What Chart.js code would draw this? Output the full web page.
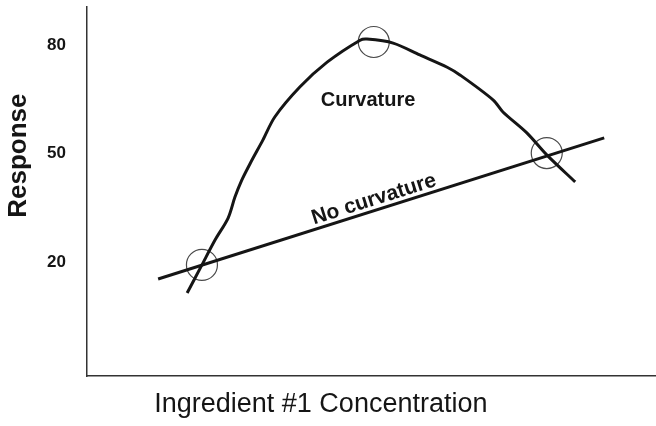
<!DOCTYPE html>
<html>
<head>
<meta charset="utf-8">
<script src="https://cdn.jsdelivr.net/npm/chart.js@4/dist/chart.umd.min.js"></script>
<style>
  html, body { margin: 0; padding: 0; background: #fff; }
  #wrap { width: 656px; height: 426px; }
</style>
</head>
<body>
<div id="wrap"><canvas id="c" width="656" height="426"></canvas></div>
<script>
// ---- data (arbitrary concentration units on x) ----
const curveX = [17.6, 20.2, 22.5, 24.8, 26.0, 27.2, 28.7, 30.9, 33.0, 37.4, 42.2, 48.0, 49.2, 53.8, 58.5, 63.3, 65.6, 71.4, 73.1, 77.3, 80.8, 85.8];
const curveY = [11.4, 19.2, 26.1, 32.2, 38.0, 42.7, 47.4, 53.8, 60.2, 68.5, 75.4, 81.5, 81.8, 80.7, 77.4, 74.0, 71.8, 64.9, 61.6, 55.8, 49.7, 42.2];
const lineX = [12.5, 90.9];
const lineY = [15.3, 54.4];
const designX = [20.2, 50.4, 80.8];
const designY = [19.2, 81.0, 50.2];
const yTicks = [20, 50, 80];
const labels = {
  curve: "Curvature",
  line: "No curvature",
  xTitle: "Ingredient #1 Concentration",
  yTitle: "Response"
};

const toPts = (xs, ys) => xs.map((x, i) => ({ x: x, y: ys[i] }));

const FONT = "'Liberation Sans', Arial, Helvetica, sans-serif";
const INK = '#151515';

const textPlugin = {
  id: 'texts',
  afterDatasetsDraw(chart) {
    const { ctx, scales: { x, y }, chartArea } = chart;
    ctx.save();
    ctx.fillStyle = INK;

    // "Curvature" label inside the curve
    ctx.font = "bold 20px " + FONT;
    ctx.textAlign = 'center';
    ctx.textBaseline = 'middle';
    ctx.fillText(labels.curve, x.getPixelForValue(49.4), y.getPixelForValue(64.9));

    // "No curvature" along the straight line
    const x0 = x.getPixelForValue(lineX[0]), y0 = y.getPixelForValue(lineY[0]);
    const x1 = x.getPixelForValue(lineX[1]), y1 = y.getPixelForValue(lineY[1]);
    const ang = Math.atan2(y1 - y0, x1 - x0);
    const t = (x.getPixelForValue(51.0) - x0) / (x1 - x0);
    const px = x0 + t * (x1 - x0), py = y0 + t * (y1 - y0);
    ctx.translate(px, py);
    ctx.rotate(ang);
    ctx.font = "bold 21px " + FONT;
    ctx.textAlign = 'center';
    ctx.textBaseline = 'alphabetic';
    ctx.fillText(labels.line, 0, -5);
    ctx.setTransform(1, 0, 0, 1, 0, 0);

    // y title
    ctx.save();
    ctx.translate(chartArea.left - 68, y.getPixelForValue(49.5));
    ctx.rotate(-Math.PI / 2);
    ctx.font = "bold 26px " + FONT;
    ctx.textAlign = 'center';
    ctx.textBaseline = 'middle';
    ctx.fillText(labels.yTitle, 0, 0);
    ctx.restore();

    // x title
    ctx.font = "27px " + FONT;
    ctx.textAlign = 'center';
    ctx.textBaseline = 'middle';
    ctx.fillText(labels.xTitle, x.getPixelForValue(41.1), chartArea.bottom + 29);
    ctx.restore();
  }
};

new Chart(document.getElementById('c'), {
  type: 'scatter',
  data: {
    datasets: [
      {
        label: 'curvature',
        data: toPts(curveX, curveY),
        showLine: true,
        borderColor: INK,
        borderWidth: 3,
        pointRadius: 0,
        tension: 0.3,
        fill: false
      },
      {
        label: 'no curvature',
        data: toPts(lineX, lineY),
        showLine: true,
        borderColor: INK,
        borderWidth: 3,
        pointRadius: 0,
        fill: false
      },
      {
        label: 'design points',
        data: toPts(designX, designY),
        showLine: false,
        pointStyle: 'circle',
        pointRadius: 15.5,
        pointBorderWidth: 1.2,
        pointBorderColor: '#4a4a4a',
        pointBackgroundColor: 'rgba(0,0,0,0)'
      }
    ]
  },
  options: {
    responsive: false,
    animation: false,
    events: [],
    layout: { autoPadding: false, padding: { top: 7, right: 0, left: 0, bottom: 0 } },
    plugins: { legend: { display: false }, tooltip: { enabled: false }, title: { display: false } },
    scales: {
      x: {
        type: 'linear',
        min: 0,
        max: 100,
        grid: { display: true, color: 'rgba(0,0,0,0)', drawTicks: false },
        border: { display: true, color: '#333', width: 1.5 },
        ticks: { display: false },
        afterFit(scale) { scale.height = 50; scale.paddingLeft = 0; scale.paddingRight = 0; }
      },
      y: {
        type: 'linear',
        min: -11.6,
        max: 90.7,
        afterBuildTicks(scale) { scale.ticks = yTicks.map(v => ({ value: v })); },
        grid: { display: true, color: 'rgba(0,0,0,0)', drawTicks: false },
        border: { display: true, color: '#333', width: 1.5 },
        ticks: {
          padding: 21,
          color: INK,
          font: { family: FONT, size: 17, weight: 'bold' }
        },
        afterFit(scale) { scale.width = 87; scale.paddingTop = 0; scale.paddingBottom = 0; }
      }
    }
  },
  plugins: [textPlugin]
});
</script>
</body>
</html>
